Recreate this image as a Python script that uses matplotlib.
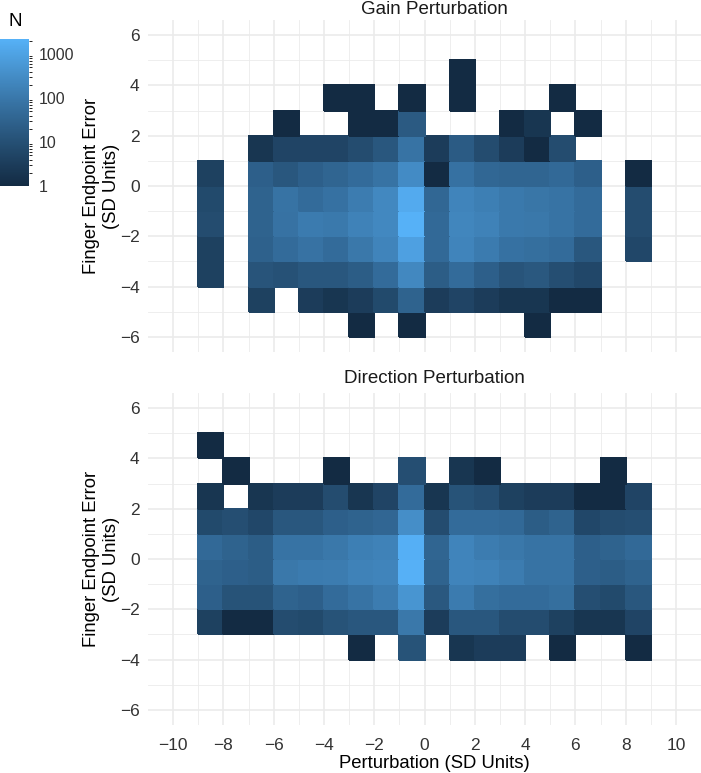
import numpy as np
import matplotlib
matplotlib.use("Agg")
import matplotlib.pyplot as plt
from matplotlib.colors import LogNorm, ListedColormap

plt.rcParams['font.family'] = ['Liberation Sans', 'DejaVu Sans']

# ---- data: bin counts (0 = empty) ----
x_edges_left = list(range(-9, 9))          # x bins [-9,-8] ... [8,9]
y_rows_bottom = [4, 3, 2, 1, 0, -1, -2, -3, -4, -5, -6]   # rows from top to bottom

gain_counts = [
    # -9 -8 -7  -6  -5  -4   -3   -2    -1    0    1    2    3    4   5   6  7  8
    [0, 0, 0,  0,  0,  0,   0,   0,    0,   0,   1,   0,   0,   0,  0,  0, 0, 0],   # 4
    [0, 0, 0,  0,  0,  1,   1,   0,    1,   0,   1,   0,   0,   0,  1,  0, 0, 0],   # 3
    [0, 0, 0,  1,  0,  0,   1,   1,   18,   0,   0,   0,   1,   2,  0,  1, 0, 0],   # 2
    [0, 0, 2,  5,  5,  5,   8,  15,   80,   3,  20,   8,   3,   1,  8,  0, 0, 0],   # 1
    [4, 0, 25, 15, 25, 35,  50,  80,  300,   1,  70,  40,  35,  35, 45, 25, 0, 1],   # 0
    [7, 0, 30, 80, 50, 70, 130, 250, 1500,  40, 200, 150, 110,  90, 80, 50, 0, 8],   # -1
    [8, 0, 30, 75, 120, 110, 180, 250, 2200, 45, 220, 180, 110, 100, 80, 50, 0, 8],  # -2
    [4, 0, 28, 50, 75, 50, 100, 200,  900,  45, 200, 120,  70,  60, 50, 15, 0, 6],   # -3
    [4, 0, 13, 11, 15, 15,  22,  50,  250,  22,  50,  25,  13,  16,  9,  6, 0, 0],   # -4
    [0, 0, 4,  0,  3,  2,   3,   7,   30,   3,   5,   3,   2,   2,  1,  1, 0, 0],   # -5
    [0, 0, 0,  0,  0,  0,   1,   0,    1,   0,   0,   0,   0,   1,  0,  0, 0, 0],   # -6
]

direction_counts = [
    # -9 -8 -7  -6   -5   -4   -3   -2    -1    0    1    2    3   4   5   6   7   8
    [1,  0, 0,  0,   0,   0,   0,   0,    0,   0,   0,   0,   0,  0,  0,  0,  0,  0],  # 4
    [0,  1, 0,  0,   0,   1,   0,   0,    9,   0,   2,   1,   0,  0,  0,  0,  1,  0],  # 3
    [2,  0, 2,  3,   3,   8,   2,   5,   50,   2,  12,   9,   4,  3,  3,  1,  1,  5],  # 2
    [7,  9, 6, 15,  15,  25,  30,  38,  350,   8,  50,  50,  45, 22, 30,  6,  8,  9],  # 1
    [45, 30, 22, 80, 80, 100, 150, 180, 2000,  35, 200, 130, 100, 80, 80, 25, 30, 45], # 0
    [30, 25, 22, 100, 120, 130, 180, 200, 2100, 30, 200, 180, 130, 80, 80, 25, 22, 30], # -1
    [25, 12, 12, 30, 25,  50,  80, 130,  500,  16, 120,  60,  50, 50, 60,  9,  7, 15], # -2
    [4,  1, 1,  8,   7,  12,  15,  15,  100,   3,  15,  15,   8,  8,  4,  2,  2,  5],  # -3
    [0,  0, 0,  0,   0,   0,   1,   0,   12,   0,   2,   3,   3,  0,  1,  0,  0,  1],  # -4
    [0,  0, 0,  0,   0,   0,   0,   0,    0,   0,   0,   0,   0,  0,  0,  0,  0,  0],  # -5
    [0,  0, 0,  0,   0,   0,   0,   0,    0,   0,   0,   0,   0,  0,  0,  0,  0,  0],  # -6
]

panel_titles = ["Gain Perturbation", "Direction Perturbation"]
legend_ticks = [1, 10, 100, 1000]
n_max = 2200

# ---- ggplot2-like gradient (#132B43 -> #56B1F7, interpolated in CIELAB) ----
def hex2rgb(h):
    h = h.lstrip('#')
    return np.array([int(h[i:i+2], 16) / 255 for i in (0, 2, 4)])

def srgb2lin(c):
    return np.where(c <= 0.04045, c / 12.92, ((c + 0.055) / 1.055) ** 2.4)

def lin2srgb(c):
    c = np.clip(c, 0, 1)
    return np.where(c <= 0.0031308, 12.92 * c, 1.055 * c ** (1 / 2.4) - 0.055)

M = np.array([[0.4124, 0.3576, 0.1805], [0.2126, 0.7152, 0.0722], [0.0193, 0.1192, 0.9505]])
Minv = np.linalg.inv(M)
white = np.array([0.95047, 1.0, 1.08883])

def f(t):
    d = 6 / 29
    return np.where(t > d ** 3, np.cbrt(t), t / (3 * d * d) + 4 / 29)

def finv(t):
    d = 6 / 29
    return np.where(t > d, t ** 3, 3 * d * d * (t - 4 / 29))

def rgb2lab(rgb):
    xyz = M @ srgb2lin(rgb) / white
    fx, fy, fz = f(xyz)
    return np.array([116 * fy - 16, 500 * (fx - fy), 200 * (fy - fz)])

def lab2rgb(lab):
    L, a, b = lab
    fy = (L + 16) / 116
    fx = fy + a / 500
    fz = fy - b / 200
    xyz = np.array([finv(fx), finv(fy), finv(fz)]) * white
    return lin2srgb(Minv @ xyz)

lab_lo = rgb2lab(hex2rgb('#132B43'))
lab_hi = rgb2lab(hex2rgb('#56B1F7'))
cols = [lab2rgb(lab_lo + (lab_hi - lab_lo) * t) for t in np.linspace(0, 1, 256)]
cmap = ListedColormap(cols)
norm = LogNorm(vmin=1, vmax=n_max)

# ---- figure ----
W, H = 701, 773
fig = plt.figure(figsize=(W / 100, H / 100), dpi=100)

def frac_box(x0, y0, x1, y1):
    return [x0 / W, 1 - y1 / H, (x1 - x0) / W, (y1 - y0) / H]

# panels extend slightly past the right edge of the image (as in the reference)
panels = [frac_box(148, 20, 720, 352), frac_box(148, 393, 720, 725)]
title_offsets = [11, 14]
xe = np.array(x_edges_left + [x_edges_left[-1] + 1])
ye = np.array(sorted(y_rows_bottom) + [max(y_rows_bottom) + 1])

for i, (box, counts, title) in enumerate(zip(panels, [gain_counts, direction_counts], panel_titles)):
    ax = fig.add_axes(box)
    arr = np.array(counts, dtype=float)[::-1]
    arr = np.ma.masked_equal(arr, 0)
    ax.pcolormesh(xe, ye, arr, cmap=cmap, norm=norm, edgecolors='face', linewidth=0.3, zorder=2)
    ax.set_xlim(-11, 11.75)
    ax.set_ylim(-6.6, 6.6)
    ax.set_xticks(np.arange(-10, 11, 2))
    ax.set_xticks(np.arange(-9, 12, 2), minor=True)
    ax.set_yticks(np.arange(-6, 7, 2))
    ax.set_yticks(np.arange(-5, 6, 2), minor=True)
    ax.grid(which='major', color='#EBEBEB', lw=1.2, zorder=0)
    ax.grid(which='minor', color='#EBEBEB', lw=0.6, zorder=0)
    ax.set_axisbelow(True)
    for s in ax.spines.values():
        s.set_visible(False)
    ax.tick_params(which='both', length=0, labelsize=12.5, labelcolor='#333333')
    ax.tick_params(axis='x', pad=9)
    ax.tick_params(axis='y', pad=6)
    ax.text(0.5, 1 + title_offsets[i] / 332, title, transform=ax.transAxes,
            ha='center', va='center', fontsize=13.5, color='#1A1A1A')
    ax.set_ylabel("Finger Endpoint Error\n(SD Units)", fontsize=13.3, labelpad=0, linespacing=1.2)
    if i == 0:
        ax.set_xticklabels([])
    else:
        ax.set_xlabel("Perturbation (SD Units)", fontsize=13.3, labelpad=2)

# legend colorbar
cax = fig.add_axes(frac_box(0, 39, 29, 186))
sm = matplotlib.cm.ScalarMappable(norm=norm, cmap=cmap)
cb = fig.colorbar(sm, cax=cax, ticks=legend_ticks)
cb.ax.set_yticklabels([str(t) for t in legend_ticks])
cb.outline.set_visible(False)
cb.ax.tick_params(length=0, labelsize=11.5, colors='#333333', pad=7)
fig.text(8 / W, 1 - 21 / H, "N", fontsize=13.5, va='center', ha='left')

fig.savefig("out.png", dpi=100)
